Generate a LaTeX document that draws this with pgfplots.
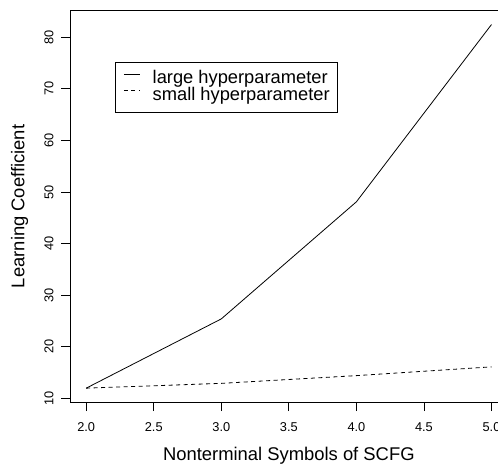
\documentclass[border=0pt]{standalone}
\usepackage{fontspec}
\setmainfont{Liberation Sans}
\usepackage{pgfplots}
\pgfplotsset{compat=1.18}
\begin{document}
\begin{tikzpicture}
\begin{axis}[
  at={(70pt,61.3pt)}, anchor=south west,
  scale only axis, width=437.7pt, height=392.7pt,
  xmin=1.88, xmax=5.12, ymin=9.15, ymax=85.29,
  axis line style={line width=0.8pt, black},
  tick style={line width=0.8pt, black},
  tick align=outside, major tick length=8.5pt,
  xtick pos=left, ytick pos=left,
  xtick={2,2.5,3,3.5,4,4.5,5},
  ytick={10,20,30,40,50,60,70,80},
  /pgf/number format/assume math mode=true,
  xticklabel={\pgfmathprintnumber[fixed,fixed zerofill,precision=1]{\tick}},
  yticklabel={\pgfmathprintnumber[fixed,precision=0]{\tick}},
  ticklabel style={font=\fontsize{12.8}{15}\selectfont, inner sep=0pt},
  xticklabel style={anchor=base},
  xticklabel shift=19.8pt,
  yticklabel style={rotate=90, anchor=base},
  yticklabel shift=8.2pt,
  xlabel={Nonterminal Symbols of SCFG},
  ylabel={Learning Coefficient},
  label style={font=\fontsize{18.4}{22}\selectfont, inner sep=0pt},
  xlabel style={at={(axis description cs:0.5,-0.1459)}, anchor=base},
  ylabel style={at={(axis description cs:-0.104,0.5)}, anchor=base, rotate=0},
  legend style={at={(axis description cs:0.1028,0.8683)}, anchor=north west,
    draw=black, line width=0.8pt, inner xsep=8pt, inner ysep=8.7pt,
    font=\fontsize{18.3}{20}\selectfont,
    nodes={inner sep=0pt, text height=13pt, text depth=3.5pt},
    /tikz/column sep=12.5pt},
  legend cell align=left,
  legend image code/.code={\draw[#1] (0pt,4.75pt) -- (16pt,4.75pt);},
]
\addplot[black, line width=0.8pt] coordinates {(2,11.97) (3,25.4) (4,48.1) (5,82.47)};
\addlegendentry{large hyperparameter}
\addplot[black, line width=0.8pt, dash pattern=on 4pt off 3.5pt] coordinates {(2,11.97) (3,12.9) (4,14.4) (5,16.1)};
\addlegendentry{small hyperparameter}
\end{axis}
\pgfresetboundingbox
\path[use as bounding box] (0,0) rectangle (498pt,464pt);
\end{tikzpicture}
\end{document}
